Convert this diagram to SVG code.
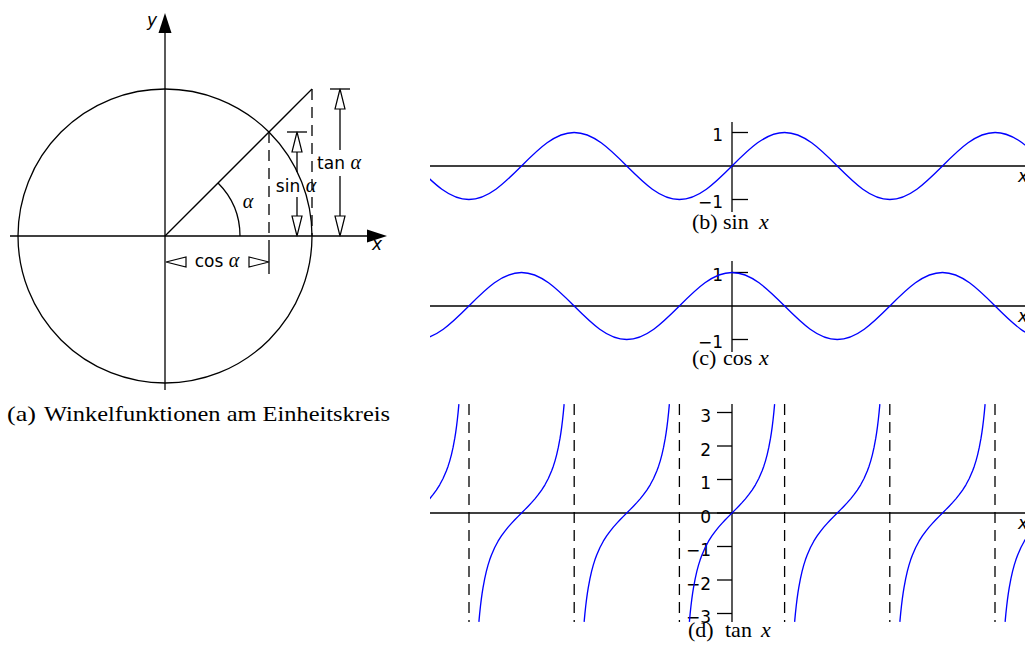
<svg xmlns="http://www.w3.org/2000/svg" xmlns:xlink="http://www.w3.org/1999/xlink" width="1025" height="646" viewBox="0 0 1025 646">
<style>
.ln{stroke:#000;stroke-width:1.3;fill:none}
.ds{stroke:#000;stroke-width:1.3;fill:none;stroke-dasharray:11 7}
.ar{fill:#fff;stroke:#000;stroke-width:1.2;stroke-linejoin:miter}
.ah{fill:#000}
.sans{font-family:'DejaVu Sans',sans-serif;font-size:17px;fill:#000}
.it{font-style:italic}
.gr{font-family:'Liberation Serif',serif;font-style:italic;font-size:20px}
.cap{font-family:'Liberation Serif',serif;font-size:22px;fill:#000}
.cv{fill:none;stroke:#0000ff;stroke-width:0.04;stroke-linejoin:round}
.tk{stroke:#000;stroke-width:1.3}
</style>
<defs>
<clipPath id="clipR"><rect x="430" y="0" width="600" height="646"/></clipPath>
<path id="tb" class="cv" d="M-1.2722,-3.25 L-1.25,-3.0096 -1.225,-2.7757 -1.2,-2.5722 -1.175,-2.3932 -1.15,-2.2345 -1.1,-1.9648 -1.05,-1.7433 -1,-1.5574 -0.95,-1.3984 -0.9,-1.2602 -0.8,-1.0296 -0.7,-0.8423 -0.6,-0.6841 -0.5,-0.5463 -0.4,-0.4228 -0.3,-0.3093 -0.2,-0.2027 -0.1,-0.1003 0,0 0.1,0.1003 0.2,0.2027 0.3,0.3093 0.4,0.4228 0.5,0.5463 0.6,0.6841 0.7,0.8423 0.8,1.0296 0.9,1.2602 0.95,1.3984 1,1.5574 1.05,1.7433 1.1,1.9648 1.15,2.2345 1.175,2.3932 1.2,2.5722 1.225,2.7757 1.25,3.0096 1.2722,3.25"/>
</defs>
<rect width="1025" height="646" fill="#fff"/>

<g id="unit-circle">
<circle cx="165" cy="236" r="147" class="ln"/>
<line x1="10" y1="236" x2="369" y2="236" class="ln"/>
<polygon points="387,236 367,229.5 367,242.5" class="ah"/>
<line x1="165" y1="390" x2="165" y2="31" class="ln"/>
<polygon points="165,13 158.5,33 171.5,33" class="ah"/>
<text x="152" y="26" class="sans it" text-anchor="middle">y</text>
<text x="377" y="250" class="sans it" text-anchor="middle">x</text>
<line x1="165" y1="236" x2="312" y2="89" class="ln"/>
<path d="M240,236 A75,75 0 0 0 218.03,182.97" class="ln"/>
<text x="248" y="208" class="gr" text-anchor="middle">α</text>
<line x1="269" y1="132" x2="269" y2="250" class="ds"/>
<line x1="312" y1="89" x2="312" y2="236" class="ds"/>
</g>

<g id="dim-cos">
<line x1="269" y1="250" x2="269" y2="274" class="ln"/>
<polygon points="166,262 186,257 186,267" class="ar"/>
<polygon points="269,262 249,257 249,267" class="ar"/>
<text x="217" y="267" class="sans" text-anchor="middle">cos <tspan class="gr">α</tspan></text>
</g>

<g id="dim-sin">
<line x1="287" y1="132" x2="307" y2="132" class="ln"/>
<line x1="297" y1="152" x2="297" y2="172" class="ln"/>
<line x1="297" y1="197" x2="297" y2="216" class="ln"/>
<polygon points="297,132 292,152 302,152" class="ar"/>
<polygon points="297,236 292,216 302,216" class="ar"/>
<text x="296" y="192" class="sans" text-anchor="middle">sin <tspan class="gr">α</tspan></text>
</g>

<g id="dim-tan">
<line x1="330" y1="89" x2="350" y2="89" class="ln"/>
<line x1="340" y1="109" x2="340" y2="150" class="ln"/>
<line x1="340" y1="176" x2="340" y2="216" class="ln"/>
<polygon points="340,89 335,109 345,109" class="ar"/>
<polygon points="340,236 335,216 345,216" class="ar"/>
<text x="339" y="169" class="sans" text-anchor="middle">tan <tspan class="gr">α</tspan></text>
</g>

<g id="caption-a">
<text x="7" y="421" class="cap" textLength="29" lengthAdjust="spacingAndGlyphs">(a)</text>
<text x="44" y="421" class="cap" textLength="346" lengthAdjust="spacingAndGlyphs">Winkelfunktionen am Einheitskreis</text>
</g>

<g id="plot-sin">
<line x1="430" y1="166" x2="1025" y2="166" class="ln"/>
<line x1="732" y1="122" x2="732" y2="212" class="ln"/>
<line x1="732" y1="132.5" x2="748" y2="132.5" class="tk"/>
<line x1="732" y1="199.5" x2="748" y2="199.5" class="tk"/>
<text x="723" y="141" class="sans" text-anchor="end">1</text>
<text x="723" y="208" class="sans" text-anchor="end">−1</text>
<text x="1018" y="182" class="sans it">x</text>
<g clip-path="url(#clipR)"><g transform="translate(732,166) scale(33.5,-33.5)">
<path class="cv" d="M-9.4248,0 c0.5123,-0.5123 1.0023,-1 1.5708,-1 c0.5685,0 1.0585,0.4877 1.5708,1 c0.5123,0.5123 1.0023,1 1.5708,1 c0.5685,0 1.0585,-0.4877 1.5708,-1 c0.5123,-0.5123 1.0023,-1 1.5708,-1 c0.5685,0 1.0585,0.4877 1.5708,1 c0.5123,0.5123 1.0023,1 1.5708,1 c0.5685,0 1.0585,-0.4877 1.5708,-1 c0.5123,-0.5123 1.0023,-1 1.5708,-1 c0.5685,0 1.0585,0.4877 1.5708,1 c0.5123,0.5123 1.0023,1 1.5708,1 c0.5685,0 1.0585,-0.4877 1.5708,-1"/>
</g></g>
<text y="229" class="cap"><tspan x="692">(b)</tspan><tspan x="723">sin</tspan><tspan x="759" font-style="italic">x</tspan></text>
</g>

<g id="plot-cos">
<line x1="430" y1="306" x2="1025" y2="306" class="ln"/>
<line x1="732" y1="261" x2="732" y2="352" class="ln"/>
<line x1="732" y1="272.5" x2="748" y2="272.5" class="tk"/>
<line x1="732" y1="339.5" x2="748" y2="339.5" class="tk"/>
<text x="723" y="281" class="sans" text-anchor="end">1</text>
<text x="723" y="348" class="sans" text-anchor="end">−1</text>
<text x="1018" y="322" class="sans it">x</text>
<g clip-path="url(#clipR)"><g transform="translate(732,306) scale(33.5,-33.5)">
<path class="cv" d="M-9.4248,-1 c0.5685,0 1.0585,0.4877 1.5708,1 c0.5123,0.5123 1.0023,1 1.5708,1 c0.5685,0 1.0585,-0.4877 1.5708,-1 c0.5123,-0.5123 1.0023,-1 1.5708,-1 c0.5685,0 1.0585,0.4877 1.5708,1 c0.5123,0.5123 1.0023,1 1.5708,1 c0.5685,0 1.0585,-0.4877 1.5708,-1 c0.5123,-0.5123 1.0023,-1 1.5708,-1 c0.5685,0 1.0585,0.4877 1.5708,1 c0.5123,0.5123 1.0023,1 1.5708,1 c0.5685,0 1.0585,-0.4877 1.5708,-1 c0.5123,-0.5123 1.0023,-1 1.5708,-1"/>
</g></g>
<text y="365" class="cap"><tspan x="692">(c)</tspan><tspan x="723">cos</tspan><tspan x="759" font-style="italic">x</tspan></text>
</g>

<g id="plot-tan">
<line x1="430" y1="513" x2="1025" y2="513" class="ln"/>
<line x1="469" y1="404" x2="469" y2="622" class="ds"/>
<line x1="574.2" y1="404" x2="574.2" y2="622" class="ds"/>
<line x1="679.4" y1="404" x2="679.4" y2="622" class="ds"/>
<line x1="784.6" y1="404" x2="784.6" y2="622" class="ds"/>
<line x1="889.8" y1="404" x2="889.8" y2="622" class="ds"/>
<line x1="995" y1="404" x2="995" y2="622" class="ds"/>
<line x1="732" y1="404" x2="732" y2="622" class="ln"/>
<g class="tk">
<line x1="717" y1="412.5" x2="732" y2="412.5"/>
<line x1="717" y1="446" x2="732" y2="446"/>
<line x1="717" y1="479.5" x2="732" y2="479.5"/>
<line x1="717" y1="513" x2="732" y2="513"/>
<line x1="717" y1="546.5" x2="732" y2="546.5"/>
<line x1="717" y1="580" x2="732" y2="580"/>
<line x1="717" y1="613.5" x2="732" y2="613.5"/>
</g>
<g class="sans" text-anchor="end">
<text x="711" y="422">3</text>
<text x="711" y="455.5">2</text>
<text x="711" y="489">1</text>
<text x="711" y="522.5">0</text>
<text x="711" y="556">−1</text>
<text x="711" y="589.5">−2</text>
<text x="711" y="623">−3</text>
</g>
<text x="1018" y="529" class="sans it">x</text>
<g clip-path="url(#clipR)"><g transform="translate(732,513) scale(33.5,-33.5)">
<use xlink:href="#tb" x="-9.4248"/>
<use xlink:href="#tb" x="-6.2832"/>
<use xlink:href="#tb" x="-3.1416"/>
<use xlink:href="#tb" x="0"/>
<use xlink:href="#tb" x="3.1416"/>
<use xlink:href="#tb" x="6.2832"/>
<use xlink:href="#tb" x="9.4248"/>
</g></g>
<text y="637" class="cap"><tspan x="688">(d)</tspan><tspan x="725">tan</tspan><tspan x="761" font-style="italic">x</tspan></text>
</g>
</svg>
